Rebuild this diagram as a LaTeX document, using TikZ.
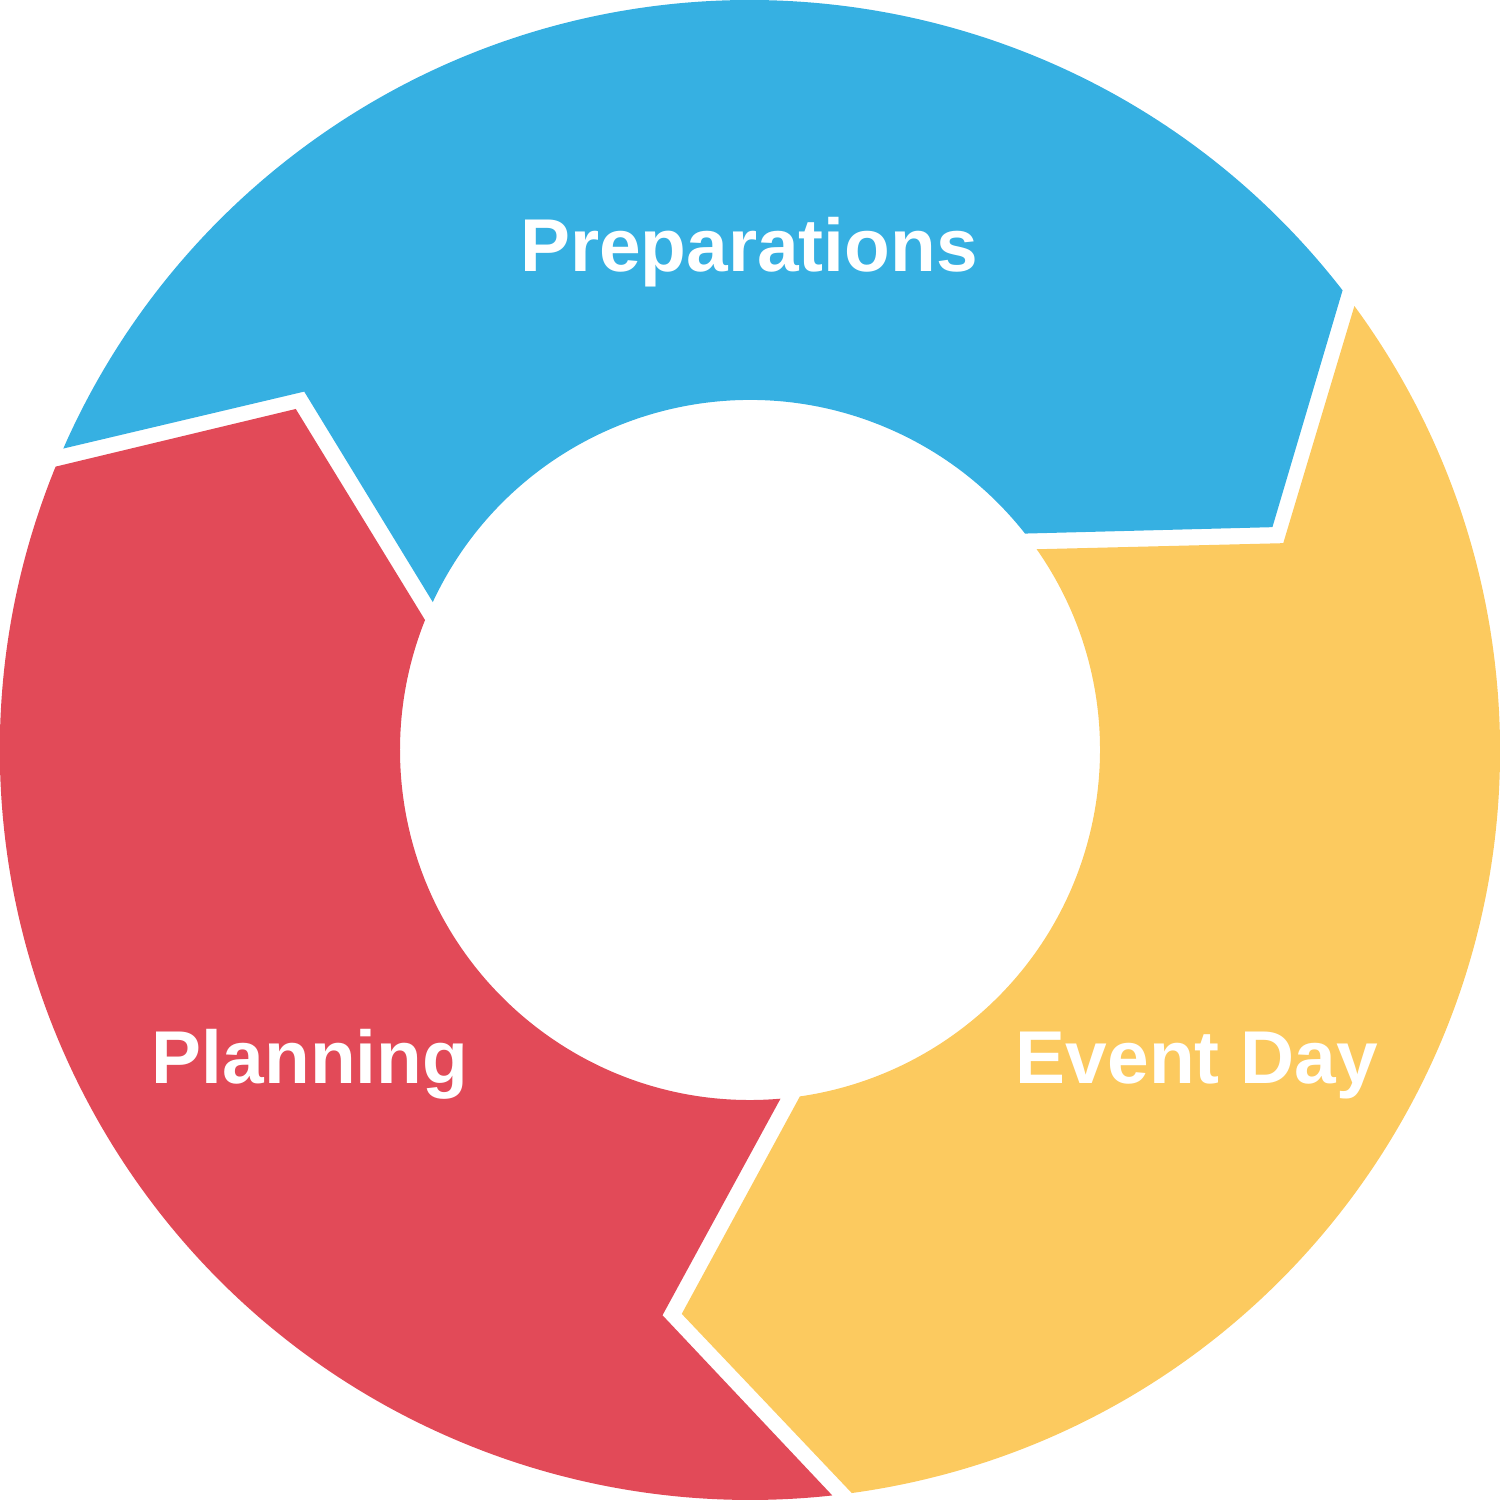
\documentclass[tikz,border=0pt]{standalone}
\usepackage{fontspec}
\setmainfont{Liberation Sans}
\definecolor{segblue}{HTML}{36B0E2}
\definecolor{segyellow}{HTML}{FCCA5F}
\definecolor{segred}{HTML}{E24A58}
\tikzset{
  label text/.style={text=white, font=\fontsize{21.3}{25}\selectfont\bfseries, inner sep=0pt, anchor=base},
}
\newcommand{\segment}[2]{%
  \fill[#2] (#1:7.5) arc[start angle=#1, end angle=#1+118.5, radius=7.5]
    -- (#1+103.4:5.72) -- (#1+117.2:3.5)
    arc[start angle=#1+117.2, end angle=#1+0.4, radius=3.5]
    -- (#1-14.7:5.68) -- cycle;}
\begin{document}
\begin{tikzpicture}
\useasboundingbox (-7.5,-7.5) rectangle (7.5,7.5);
\segment{37.8}{segblue}
\segment{-82.2}{segyellow}
\segment{157.8}{segred}
\node[label text] (prep) at (-0.01,4.79) {Preparations};
\node[label text] (plan) at (-4.40,-3.33) {Planning};
\node[label text] (event) at (4.47,-3.33) {Event Day};
\end{tikzpicture}
\end{document}
